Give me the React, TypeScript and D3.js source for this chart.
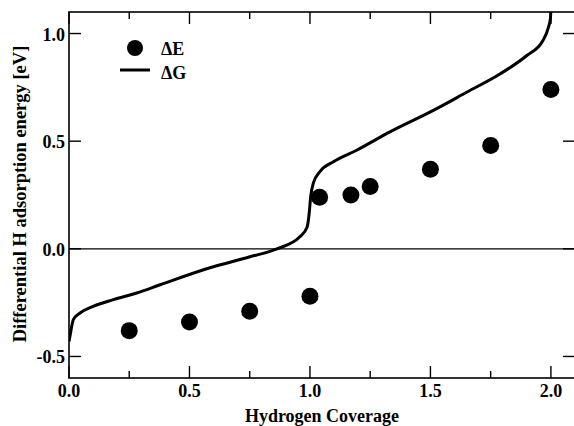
import React from "react";
import * as d3 from "d3";

// Differential hydrogen adsorption energy vs. coverage
const deCoverage = [0.25, 0.5, 0.75, 1.0, 1.04, 1.17, 1.25, 1.5, 1.75, 2.0];
const deValues = [-0.38, -0.34, -0.29, -0.22, 0.24, 0.25, 0.29, 0.37, 0.48, 0.74];

const dgCoverage = [0, 0.004, 0.018, 0.046, 0.1, 0.184, 0.281, 0.378, 0.585, 0.751, 0.863, 0.958, 0.988, 0.997, 1.003, 1.014, 1.041, 1.097, 1.194, 1.332, 1.512, 1.65, 1.79, 1.9, 1.967, 1.99, 1.998, 2.0];
const dgValues = [-0.43, -0.406, -0.329, -0.298, -0.267, -0.236, -0.205, -0.167, -0.088, -0.037, 0, 0.056, 0.1, 0.167, 0.242, 0.305, 0.358, 0.404, 0.458, 0.543, 0.643, 0.727, 0.813, 0.898, 0.968, 1.03, 1.07, 1.12];

const xMajor = [0, 0.5, 1.0, 1.5, 2.0];
const xMinor = [0.25, 0.75, 1.25, 1.75];
const yMajor = [-0.5, 0, 0.5, 1.0];

const W = 574;
const H = 426;
const m = { left: 69, top: 12, right: 575, bottom: 378 };
const font = "Liberation Serif";

export default function App() {
  const x = d3.scaleLinear().domain([0, 2.1]).range([m.left, m.right]);
  const y = d3.scaleLinear().domain([-0.6, 1.1]).range([m.bottom, m.top]);

  const dg = dgCoverage.map((c, i) => [c, dgValues[i]] as [number, number]);
  const line = d3
    .line<[number, number]>()
    .x((d) => x(d[0]))
    .y((d) => y(d[1]))
    .curve(d3.curveMonotoneX);

  const fmt = (v: number) => d3.format(".1f")(v).replace("\u2212", "-");

  return (
    <svg
      width={W}
      height={H}
      style={{ position: "absolute", left: 0, top: 0, background: "#fff" }}
    >
      <defs>
        <clipPath id="plot">
          <rect x={m.left} y={m.top} width={m.right - m.left} height={m.bottom - m.top} />
        </clipPath>
      </defs>
      <rect width={W} height={H} fill="#fff" />

      {/* zero reference */}
      <line x1={m.left} x2={m.right} y1={y(0)} y2={y(0)} stroke="#000" strokeWidth={1.2} />

      {/* frame */}
      <rect
        x={m.left}
        y={m.top}
        width={m.right - m.left}
        height={m.bottom - m.top}
        fill="none"
        stroke="#000"
        strokeWidth={1.6}
      />

      {/* x ticks, bottom and top, pointing inward */}
      {xMajor.map((v) => (
        <g key={"xM" + v}>
          <line x1={x(v)} x2={x(v)} y1={m.bottom} y2={m.bottom - 12} stroke="#000" strokeWidth={1.4} />
          <line x1={x(v)} x2={x(v)} y1={m.top} y2={m.top + 12} stroke="#000" strokeWidth={1.4} />
          <text
            x={x(v)}
            y={397}
            textAnchor="middle"
            fontFamily={font}
            fontWeight="bold"
            fontSize={18}
          >
            {fmt(v)}
          </text>
        </g>
      ))}
      {xMinor.map((v) => (
        <g key={"xm" + v}>
          <line x1={x(v)} x2={x(v)} y1={m.bottom} y2={m.bottom - 7} stroke="#000" strokeWidth={1.4} />
          <line x1={x(v)} x2={x(v)} y1={m.top} y2={m.top + 7} stroke="#000" strokeWidth={1.4} />
        </g>
      ))}

      {/* y ticks, left and right */}
      {yMajor.map((v) => (
        <g key={"yM" + v}>
          <line x1={m.left} x2={m.left + 12} y1={y(v)} y2={y(v)} stroke="#000" strokeWidth={1.4} />
          <line x1={m.right} x2={m.right - 12} y1={y(v)} y2={y(v)} stroke="#000" strokeWidth={1.4} />
          <text
            x={65}
            y={y(v) + 7}
            textAnchor="end"
            fontFamily={font}
            fontWeight="bold"
            fontSize={18}
          >
            {fmt(v)}
          </text>
        </g>
      ))}

      <g clipPath="url(#plot)">
        <path d={line(dg) ?? ""} fill="none" stroke="#000" strokeWidth={3} />
        {deCoverage.map((c, i) => (
          <circle key={"de" + i} cx={x(c)} cy={y(deValues[i])} r={8.5} fill="#000" />
        ))}
      </g>

      {/* legend */}
      <circle cx={135} cy={48} r={8} fill="#000" />
      <text x={161} y={54.5} fontFamily={font} fontWeight="bold" fontSize={18}>
        ΔE
      </text>
      <line x1={120} x2={150} y1={70} y2={70} stroke="#000" strokeWidth={3} />
      <text x={161} y={78.5} fontFamily={font} fontWeight="bold" fontSize={18}>
        ΔG
      </text>

      {/* axis titles */}
      <text
        x={322}
        y={422}
        textAnchor="middle"
        fontFamily={font}
        fontWeight="bold"
        fontSize={18}
      >
        Hydrogen Coverage
      </text>
      <text
        transform={`translate(26, 194) rotate(-90)`}
        textAnchor="middle"
        fontFamily={font}
        fontWeight="bold"
        fontSize={18.5}
      >
        Differential H adsorption energy [eV]
      </text>
    </svg>
  );
}
